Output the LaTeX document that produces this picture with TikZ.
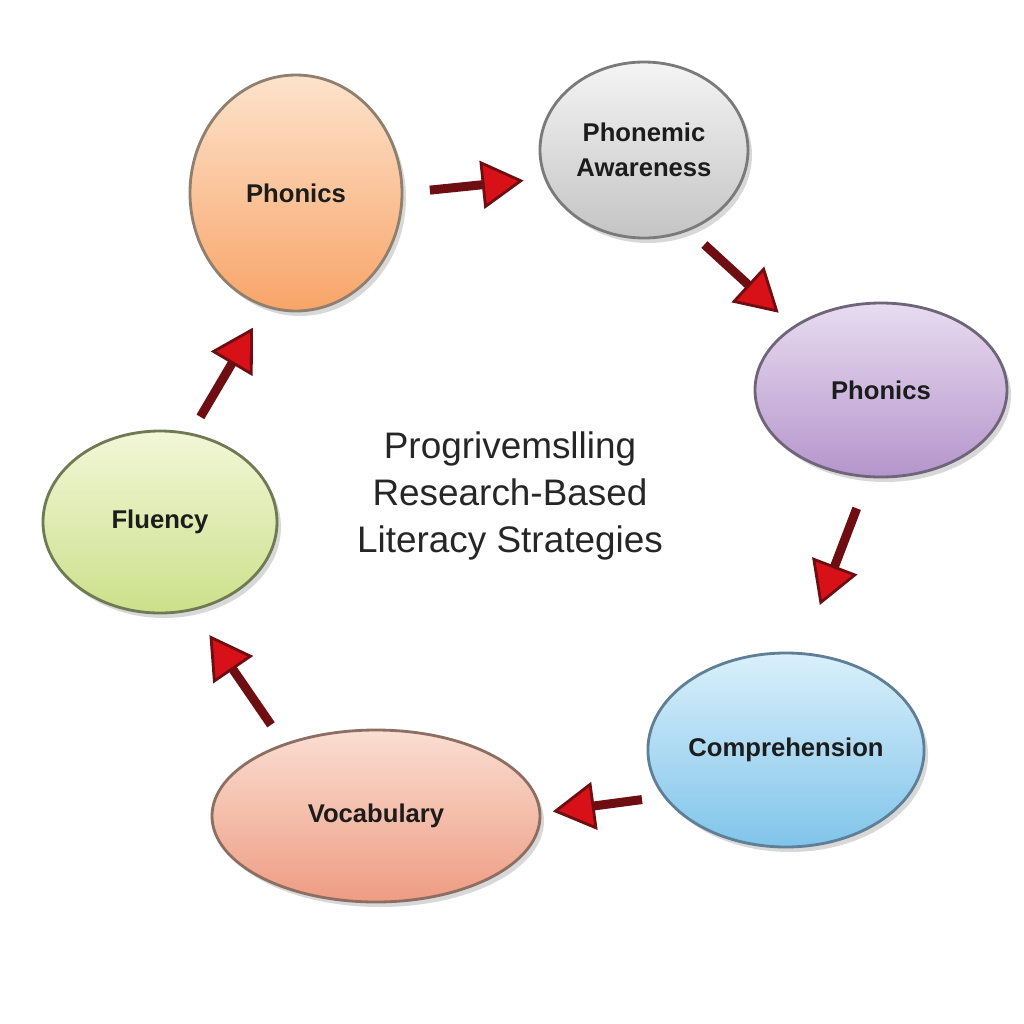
\documentclass[tikz,border=0pt]{standalone}
\usepackage{fontspec}
\setmainfont{Liberation Sans}
\usetikzlibrary{shapes.geometric,arrows.meta,shadows}

\definecolor{phonicsTop}{HTML}{FDE3CC}
\definecolor{phonicsBot}{HTML}{F8A468}
\definecolor{phonicsLine}{HTML}{8F7F6E}
\definecolor{awareTop}{HTML}{F4F4F4}
\definecolor{awareBot}{HTML}{C4C4C4}
\definecolor{awareLine}{HTML}{7A7A7A}
\definecolor{purpleTop}{HTML}{E8DCF0}
\definecolor{purpleBot}{HTML}{B595CC}
\definecolor{purpleLine}{HTML}{6E6578}
\definecolor{compTop}{HTML}{DAF0FB}
\definecolor{compBot}{HTML}{80C4EA}
\definecolor{compLine}{HTML}{5E7F96}
\definecolor{vocabTop}{HTML}{FADED2}
\definecolor{vocabBot}{HTML}{EE9C82}
\definecolor{vocabLine}{HTML}{8C6E63}
\definecolor{fluencyTop}{HTML}{F2F7D8}
\definecolor{fluencyBot}{HTML}{CCE08A}
\definecolor{fluencyLine}{HTML}{6F7A55}
\definecolor{shaftRed}{HTML}{6E0E12}
\definecolor{headRed}{HTML}{D81018}
\definecolor{labelInk}{HTML}{1C1C1C}

\begin{document}
\begin{tikzpicture}[bubble/.style={ellipse, line width=0.8pt, outer sep=0pt, inner sep=0pt, text=labelInk, align=center, font=\bfseries\fontsize{7.3}{10}\selectfont, drop shadow={shadow xshift=0.04cm, shadow yshift=-0.05cm, opacity=0.3}}, flow/.style={line width=0.09cm, draw=shaftRed, -{Triangle[length=0.42cm, width=0.48cm, line width=0.8pt, fill=headRed]}}]
\fill[white] (0,0) rectangle (10.24,-10.24);
\useasboundingbox (0,0) rectangle (10.24,-10.24);
\node[bubble, draw=phonicsLine, top color=phonicsTop, bottom color=phonicsBot, minimum width=2.12cm, minimum height=2.36cm] (phonics) at (2.96,-1.93) {Phonics};
\node[bubble, draw=awareLine, top color=awareTop, bottom color=awareBot, minimum width=2.08cm, minimum height=1.76cm] (awareness) at (6.44,-1.50) {Phonemic\\Awareness};
\node[bubble, draw=purpleLine, top color=purpleTop, bottom color=purpleBot, minimum width=2.52cm, minimum height=1.74cm] (phonics2) at (8.81,-3.90) {Phonics};
\node[bubble, draw=compLine, top color=compTop, bottom color=compBot, minimum width=2.68cm, minimum height=1.94cm] (comprehension) at (7.86,-7.50) {Comprehension};
\node[bubble, draw=vocabLine, top color=vocabTop, bottom color=vocabBot, minimum width=3.28cm, minimum height=1.72cm] (vocabulary) at (3.76,-8.16) {Vocabulary};
\node[bubble, draw=fluencyLine, top color=fluencyTop, bottom color=fluencyBot, minimum width=2.34cm, minimum height=1.82cm] (fluency) at (1.60,-5.22) {Fluency};
\node[align=center, text=black!85, font=\fontsize{10.5}{13.4}\selectfont] (title) at (5.10,-4.96) {Progrivemslling\\Research-Based\\Literacy Strategies};
\draw[flow, shorten <=0.28cm, shorten >=0.22cm] (phonics.0) -- (awareness.-164.4);
\draw[flow, shorten <=0.22cm, shorten >=0.21cm] (awareness.-61.9) -- (phonics2.144.3);
\draw[flow, shorten <=0.34cm, shorten >=0.52cm] (phonics2.-98.5) -- (comprehension.81.4);
\draw[flow, shorten <=0.23cm, shorten >=0.13cm] (comprehension.-159.1) -- (vocabulary.1.9);
\draw[flow, shorten <=0.24cm, shorten >=0.31cm] (vocabulary.142.4) -- (fluency.-70.7);
\draw[flow, shorten <=0.20cm, shorten >=0.25cm] (fluency.71.1) -- (phonics.-105.7);
\end{tikzpicture}
\end{document}
